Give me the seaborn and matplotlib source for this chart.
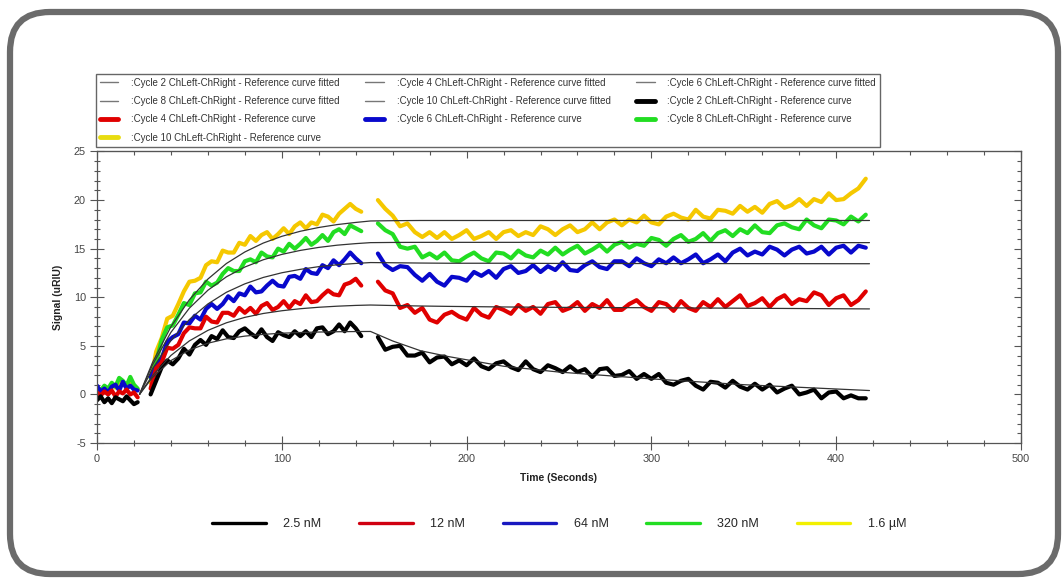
import matplotlib
matplotlib.use("Agg")
import matplotlib.pyplot as plt
import seaborn as sns
import pandas as pd
from matplotlib.lines import Line2D
from matplotlib.patches import FancyBboxPatch
from matplotlib.ticker import MultipleLocator, NullFormatter

# time grids of the three recorded segments (seconds)
t_base = [0, 2, 4, 6, 8, 10, 12, 14, 16, 18, 20, 22]
t_assoc = [29, 32, 35, 38, 41, 44, 47, 50, 53, 56, 59, 62, 65, 68, 71, 74, 77, 80, 83,
           86, 89, 92, 95, 98, 101, 104, 107, 110, 113, 116, 119, 122, 125, 128, 131,
           134, 137, 140, 143]
t_dissoc = [152, 156, 160, 164, 168, 172, 176, 180, 184, 188, 192, 196, 200, 204, 208,
            212, 216, 220, 224, 228, 232, 236, 240, 244, 248, 252, 256, 260, 264, 268,
            272, 276, 280, 284, 288, 292, 296, 300, 304, 308, 312, 316, 320, 324, 328,
            332, 336, 340, 344, 348, 352, 356, 360, 364, 368, 372, 376, 380, 384, 388,
            392, 396, 400, 404, 408, 412, 416]

# measured reference curves (uRIU)
black_base = [-0.6, -0.2, -0.8, -0.4, -0.9, -0.3, -0.5, -0.7, -0.2, -0.6, -1.0, -0.8]
red_base = [0.2, -0.1, 0.3, 0.0, 0.4, -0.2, 0.3, 0.1, 0.5, 0.0, 0.2, -0.3]
blue_base = [0.9, 0.3, 0.6, 0.2, 0.8, 1.0, 0.4, 1.3, 0.6, 0.9, 0.5, 0.4]
green_base = [0.7, 0.4, 0.9, 0.6, 1.2, 0.8, 1.7, 1.4, 0.9, 1.8, 1.0, 0.6]
yellow_base = [0.5, 0.3, 0.8, 0.5, 1.0, 0.7, 1.4, 1.2, 0.8, 1.5, 0.9, 0.5]

black_assoc = [0.0, 1.4, 2.8, 3.5, 3.1, 3.7, 4.7, 4.1, 5.1, 5.6, 5.1, 6.0, 5.7, 6.6, 5.9,
               5.8, 6.5, 6.8, 6.3, 5.9, 6.7, 5.9, 5.5, 6.4, 6.1, 5.9, 6.5, 6.0, 6.5, 5.9,
               6.8, 6.9, 6.2, 6.5, 7.2, 6.5, 7.4, 6.8, 6.0]
red_assoc = [0.6, 2.7, 3.3, 4.8, 4.7, 5.1, 6.3, 6.9, 6.8, 6.8, 8.0, 7.5, 7.4, 8.4, 8.4,
             8.1, 8.9, 8.4, 8.9, 8.3, 9.1, 9.4, 8.7, 9.0, 9.6, 8.9, 9.6, 9.3, 10.2, 9.5,
             9.6, 10.2, 10.7, 10.3, 10.2, 11.3, 11.5, 11.9, 11.2]
blue_assoc = [1.8, 2.8, 3.7, 5.4, 5.9, 6.2, 7.4, 7.3, 8.1, 7.7, 8.8, 9.3, 8.8, 9.3, 10.1,
              9.6, 10.4, 10.2, 11.1, 10.5, 10.6, 11.2, 11.7, 11.2, 11.1, 12.1, 12.2, 11.9,
              12.9, 12.5, 12.4, 13.3, 13.0, 13.8, 13.3, 13.9, 14.6, 14.0, 13.5]
green_assoc = [1.7, 3.3, 5.6, 6.9, 7.1, 8.2, 9.4, 9.2, 10.4, 10.5, 11.6, 11.2, 11.5, 12.4,
               13.0, 12.7, 12.7, 13.7, 13.9, 13.6, 14.6, 14.2, 14.1, 15.0, 14.7, 15.5,
               15.0, 15.5, 16.1, 15.4, 15.8, 16.4, 15.8, 16.7, 17.0, 16.5, 17.4, 17.1, 16.8]
yellow_assoc = [1.2, 4.4, 5.8, 7.8, 8.1, 9.3, 10.6, 11.6, 11.7, 12.0, 13.3, 13.7, 13.6,
                14.8, 14.6, 14.6, 15.6, 15.4, 16.3, 15.8, 16.4, 16.7, 16.0, 16.5, 17.1,
                16.5, 17.3, 17.7, 17.1, 17.7, 17.5, 18.5, 18.3, 17.8, 18.6, 19.1, 19.6,
                19.1, 18.8]

black_dissoc = [5.9, 4.6, 4.9, 5.0, 4.0, 4.0, 4.3, 3.3, 3.8, 3.9, 3.1, 3.5, 3.0, 3.7, 2.9,
                2.6, 3.2, 3.4, 2.8, 2.5, 3.4, 2.6, 2.3, 3.0, 2.7, 2.3, 2.9, 2.3, 2.6, 1.8,
                2.6, 2.7, 1.9, 2.0, 2.4, 1.6, 2.1, 1.6, 2.1, 1.2, 1.0, 1.4, 1.6, 0.9, 0.5,
                1.3, 1.2, 0.7, 1.4, 0.8, 0.5, 1.1, 0.5, 1.0, 0.2, 0.6, 0.9, 0.0, 0.2, 0.5,
                -0.4, 0.2, 0.3, -0.4, -0.1, -0.4, -0.4]
red_dissoc = [11.6, 10.7, 10.4, 8.9, 9.2, 8.4, 8.9, 7.7, 7.4, 8.2, 8.5, 8.0, 7.7, 8.9, 8.2,
              7.9, 9.0, 8.7, 8.3, 9.2, 8.6, 9.0, 8.3, 9.3, 9.5, 8.6, 8.9, 9.5, 8.6, 9.3,
              8.9, 9.7, 8.7, 8.7, 9.3, 9.7, 9.0, 8.6, 9.5, 9.3, 8.6, 9.6, 8.9, 8.6, 9.5,
              9.0, 9.8, 9.0, 9.6, 10.2, 9.1, 9.4, 9.9, 9.0, 9.8, 10.2, 9.3, 9.8, 9.6, 10.5,
              10.2, 9.2, 9.9, 10.2, 9.2, 9.7, 10.6]
blue_dissoc = [14.5, 13.3, 12.8, 13.2, 13.1, 12.3, 11.7, 12.4, 11.6, 11.2, 12.1, 12.0, 11.7,
               12.6, 12.2, 12.7, 12.0, 12.9, 13.2, 12.5, 12.7, 13.3, 12.6, 13.2, 12.8, 13.6,
               12.8, 12.7, 13.3, 13.7, 13.1, 12.9, 13.7, 13.7, 13.2, 14.0, 13.5, 13.2, 13.9,
               13.5, 14.1, 13.5, 13.9, 14.4, 13.5, 13.9, 14.4, 13.7, 14.6, 15.0, 14.3, 14.7,
               14.4, 15.2, 14.9, 14.3, 14.9, 15.2, 14.5, 14.7, 15.2, 14.4, 15.1, 15.3, 14.6,
               15.3, 15.1]
green_dissoc = [17.6, 16.9, 16.5, 15.2, 15.0, 15.2, 14.1, 14.5, 14.0, 14.6, 13.8, 13.7, 14.2,
                14.6, 14.0, 13.7, 14.6, 14.5, 14.0, 14.8, 14.3, 14.1, 14.8, 14.4, 15.1, 14.4,
                14.9, 15.3, 14.5, 14.9, 15.4, 14.7, 15.4, 15.7, 15.1, 15.5, 15.3, 16.1, 15.9,
                15.3, 16.0, 16.4, 15.7, 16.0, 16.6, 15.8, 16.6, 16.9, 16.3, 17.0, 16.6, 17.4,
                16.7, 16.6, 17.4, 17.6, 17.2, 17.0, 18.0, 17.4, 17.1, 18.0, 17.9, 17.5, 18.3,
                17.8, 18.5]
yellow_dissoc = [20.0, 19.1, 18.4, 17.3, 17.6, 16.7, 16.2, 16.7, 16.1, 16.7, 16.0, 16.4,
                 16.9, 16.0, 16.3, 16.7, 16.0, 16.7, 16.9, 16.3, 16.7, 16.4, 17.3, 17.0,
                 16.4, 17.0, 17.4, 16.7, 17.0, 17.7, 17.0, 17.7, 18.0, 17.4, 18.0, 17.7,
                 18.4, 17.7, 17.5, 18.3, 18.6, 18.2, 18.0, 19.0, 18.3, 18.1, 19.0, 18.9,
                 18.6, 19.4, 18.8, 19.3, 18.7, 19.6, 19.9, 19.2, 19.5, 20.1, 19.4, 20.1,
                 19.8, 20.7, 20.0, 20.1, 20.7, 21.2, 22.2]

# fitted reference curves
t_fit = [23, 30, 40, 50, 60, 70, 80, 90, 100, 110, 120, 130, 140, 148,
         160, 175, 190, 205, 220, 250, 300, 350, 418]
black_fit = [0.0, 1.75, 3.48, 4.57, 5.27, 5.72, 6.0, 6.18, 6.3, 6.37, 6.42, 6.45, 6.47, 6.48,
             5.5, 4.5, 3.9, 3.4, 2.9, 2.3, 1.6, 1.0, 0.4]
red_fit = [0.0, 1.93, 4.01, 5.51, 6.59, 7.37, 7.93, 8.33, 8.61, 8.82, 8.97, 9.08, 9.16, 9.2,
           9.15, 9.1, 9.06, 9.03, 9.0, 8.96, 8.92, 8.87, 8.8]
blue_fit = [0.0, 2.63, 5.55, 7.71, 9.31, 10.51, 11.38, 12.04, 12.52, 12.87, 13.15, 13.34,
            13.48, 13.57, 13.55, 13.52, 13.5, 13.5, 13.5, 13.48, 13.47, 13.46, 13.45]
green_fit = [0.0, 3.03, 6.39, 8.88, 10.72, 12.1, 13.11, 13.86, 14.41, 14.82, 15.13, 15.36,
             15.52, 15.62, 15.64, 15.65, 15.65, 15.65, 15.65, 15.65, 15.64, 15.63, 15.62]
yellow_fit = [0.0, 3.27, 6.97, 9.75, 11.87, 13.47, 14.66, 15.58, 16.27, 16.79, 17.18, 17.48,
              17.7, 17.85, 17.88, 17.9, 17.9, 17.9, 17.9, 17.9, 17.9, 17.9, 17.9]

cycles = ["Cycle 10", "Cycle 8", "Cycle 6", "Cycle 4", "Cycle 2"]
concentrations = ["2.5 nM", "12 nM", "64 nM", "320 nM", "1.6 µM"]
trace_colors = {"Cycle 2": "#000000", "Cycle 4": "#E00000", "Cycle 6": "#0808CC",
                "Cycle 8": "#22DD22", "Cycle 10": "#F5C800"}

curves = {
    "Cycle 2": (black_base, black_assoc, black_dissoc, black_fit),
    "Cycle 4": (red_base, red_assoc, red_dissoc, red_fit),
    "Cycle 6": (blue_base, blue_assoc, blue_dissoc, blue_fit),
    "Cycle 8": (green_base, green_assoc, green_dissoc, green_fit),
    "Cycle 10": (yellow_base, yellow_assoc, yellow_dissoc, yellow_fit),
}

trace_frames = []
fit_frames = []
for cyc in cycles:
    base, assoc, dissoc, fit = curves[cyc]
    for seg, (tt, vv) in enumerate([(t_base, base), (t_assoc, assoc), (t_dissoc, dissoc)]):
        trace_frames.append(pd.DataFrame({"time": tt, "signal": vv, "cycle": cyc, "segment": seg}))
    fit_frames.append(pd.DataFrame({"time": t_fit, "signal": fit, "cycle": cyc}))
traces = pd.concat(trace_frames, ignore_index=True)
fits = pd.concat(fit_frames, ignore_index=True)

sns.set_style("ticks")
plt.rcParams["font.family"] = ["Liberation Sans", "DejaVu Sans"]
plt.rcParams["axes.unicode_minus"] = False

fig = plt.figure(figsize=(10.64, 5.79), dpi=100)

# rounded outer frame
bg = fig.add_axes([0, 0, 1, 1], zorder=-1)
bg.set_xlim(0, 1064)
bg.set_ylim(579, 0)
bg.axis("off")
bg.add_patch(FancyBboxPatch((10, 12), 1048, 562, boxstyle="round,pad=0,rounding_size=40",
                            fc="white", ec="#6b6b6b", lw=4.5))

ax = fig.add_axes([97 / 1064, 1 - 443 / 579, 924 / 1064, 291.5 / 579])
ax.patch.set_alpha(0)

sns.lineplot(data=traces, x="time", y="signal", hue="cycle", units="segment",
             estimator=None, sort=False, palette=trace_colors, hue_order=cycles,
             linewidth=3.0, legend=False, ax=ax)
sns.lineplot(data=fits, x="time", y="signal", units="cycle", estimator=None, sort=False,
             color="#333333", linewidth=0.9, legend=False, ax=ax)

ax.set_xlim(0, 500)
ax.set_ylim(-5, 25)
ax.xaxis.set_major_locator(MultipleLocator(100))
ax.xaxis.set_minor_locator(MultipleLocator(20))
ax.yaxis.set_major_locator(MultipleLocator(5))
ax.yaxis.set_minor_locator(MultipleLocator(1))
ax.tick_params(which="major", direction="inout", length=10, width=0.8, color="#555555",
               labelsize=7.8, labelcolor="#444444", pad=3)
ax.tick_params(which="minor", direction="inout", length=4.5, width=0.8, color="#555555")
for sp in ax.spines.values():
    sp.set_color("#555555")
    sp.set_linewidth(0.9)

secx = ax.secondary_xaxis("top")
secx.xaxis.set_major_locator(MultipleLocator(100))
secx.xaxis.set_minor_locator(MultipleLocator(20))
secx.xaxis.set_major_formatter(NullFormatter())
secx.tick_params(which="major", direction="in", length=5, width=0.8, color="#555555")
secx.tick_params(which="minor", direction="in", length=3, width=0.8, color="#555555")
secx.spines["top"].set_color("#555555")
secy = ax.secondary_yaxis("right")
secy.yaxis.set_major_locator(MultipleLocator(5))
secy.yaxis.set_minor_locator(MultipleLocator(1))
secy.yaxis.set_major_formatter(NullFormatter())
secy.tick_params(which="major", direction="in", length=5, width=0.8, color="#555555")
secy.tick_params(which="minor", direction="in", length=3, width=0.8, color="#555555")
secy.spines["right"].set_color("#555555")

ax.set_xlabel("Time (Seconds)", fontsize=7.5, fontweight="bold", color="#222222")
ax.set_ylabel("Signal (uRIU)", fontsize=7.5, fontweight="bold", color="#222222")
ax.xaxis.set_label_coords(0.5, -0.103)
ax.yaxis.set_label_coords(-0.037, 0.5)

# top legend (software style, 3 columns filled row by row)
fit_h = Line2D([], [], color="#777777", lw=1.0)
legend_yellow = "#E8DC10"


def curve_h(c):
    return Line2D([], [], color=c, lw=3.5)


blank = Line2D([], [], color="none")
entries = [
    (fit_h, ":Cycle 2 ChLeft-ChRight - Reference curve fitted"),
    (fit_h, ":Cycle 8 ChLeft-ChRight - Reference curve fitted"),
    (curve_h(trace_colors["Cycle 4"]), ":Cycle 4 ChLeft-ChRight - Reference curve"),
    (curve_h(legend_yellow), ":Cycle 10 ChLeft-ChRight - Reference curve"),
    (fit_h, ":Cycle 4 ChLeft-ChRight - Reference curve fitted"),
    (fit_h, ":Cycle 10 ChLeft-ChRight - Reference curve fitted"),
    (curve_h(trace_colors["Cycle 6"]), ":Cycle 6 ChLeft-ChRight - Reference curve"),
    (blank, ""),
    (fit_h, ":Cycle 6 ChLeft-ChRight - Reference curve fitted"),
    (curve_h(trace_colors["Cycle 2"]), ":Cycle 2 ChLeft-ChRight - Reference curve"),
    (curve_h(trace_colors["Cycle 8"]), ":Cycle 8 ChLeft-ChRight - Reference curve"),
    (blank, ""),
]
leg = fig.legend([e[0] for e in entries], [e[1] for e in entries], ncol=3,
                 loc="upper left", bbox_to_anchor=(96 / 1064, 1 - 145 / 579, 784 / 1064, 71 / 579),
                 mode="expand", fontsize=7, frameon=True, fancybox=False,
                 edgecolor="#666666", framealpha=1, borderpad=0.4, handlelength=1.9,
                 handletextpad=1.3, columnspacing=1.2, labelspacing=0.85, borderaxespad=0)
leg.get_frame().set_linewidth(1.0)
for txt in leg.get_texts():
    txt.set_color("#333333")

# bottom concentration legend
conc_colors = ["#000000", "#D00010", "#1818C0", "#22DD22", "#F2F000"]
conc_handles = [Line2D([], [], color=c, lw=2.4) for c in conc_colors]
fig.legend(conc_handles, concentrations, ncol=5, loc="center left",
           bbox_to_anchor=(207 / 1064, 1 - 524 / 579), frameon=False, fontsize=9,
           handlelength=4.3, handletextpad=1.4, columnspacing=3.0, borderaxespad=0)

fig.savefig("out.png", dpi=100)
